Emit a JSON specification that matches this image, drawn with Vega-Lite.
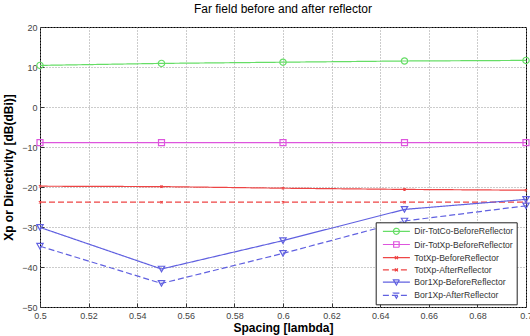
{
  "$schema": "https://vega.github.io/schema/vega-lite/v6.json",
  "width": 486,
  "height": 280,
  "autosize": {"type": "none"},
  "padding": {"left": 40, "top": 27, "right": 4, "bottom": 29},
  "background": "white",
  "title": {"text": "Far field before and after reflector", "fontSize": 12, "fontWeight": "normal", "font": "Liberation Sans", "color": "black", "offset": 7},
  "config": {
    "view": {"stroke": "black", "strokeWidth": 1},
    "axis": {
      "domain": false,
      "ticks": true,
      "tickSize": -4,
      "tickColor": "#333333",
      "grid": true,
      "gridColor": "#999999",
      "gridDash": [1, 2],
      "gridOpacity": 1,
      "labelFlush": false,
      "labelFont": "Liberation Sans",
      "labelFontSize": 9,
      "labelColor": "#444444",
      "titleFont": "Liberation Sans",
      "titleFontSize": 12,
      "titleFontWeight": "bold",
      "titleColor": "black"
    },
    "legend": {"labelFont": "Liberation Sans", "labelFontSize": 8.6, "labelColor": "#333333"}
  },
  "data": {
    "values": [
      {"series": "Dir-TotCo-BeforeReflector", "spacing": 0.5, "value": 10.4},
      {"series": "Dir-TotCo-BeforeReflector", "spacing": 0.55, "value": 10.9},
      {"series": "Dir-TotCo-BeforeReflector", "spacing": 0.6, "value": 11.2},
      {"series": "Dir-TotCo-BeforeReflector", "spacing": 0.65, "value": 11.5},
      {"series": "Dir-TotCo-BeforeReflector", "spacing": 0.7, "value": 11.65},
      {"series": "Dir-TotXp-BeforeReflector", "spacing": 0.5, "value": -8.9},
      {"series": "Dir-TotXp-BeforeReflector", "spacing": 0.55, "value": -8.9},
      {"series": "Dir-TotXp-BeforeReflector", "spacing": 0.6, "value": -8.9},
      {"series": "Dir-TotXp-BeforeReflector", "spacing": 0.65, "value": -8.9},
      {"series": "Dir-TotXp-BeforeReflector", "spacing": 0.7, "value": -8.9},
      {"series": "TotXp-BeforeReflector", "spacing": 0.5, "value": -19.8},
      {"series": "TotXp-BeforeReflector", "spacing": 0.55, "value": -19.9},
      {"series": "TotXp-BeforeReflector", "spacing": 0.6, "value": -20.3},
      {"series": "TotXp-BeforeReflector", "spacing": 0.65, "value": -20.6},
      {"series": "TotXp-BeforeReflector", "spacing": 0.7, "value": -20.8},
      {"series": "TotXp-AfterReflector", "spacing": 0.5, "value": -23.8},
      {"series": "TotXp-AfterReflector", "spacing": 0.55, "value": -23.8},
      {"series": "TotXp-AfterReflector", "spacing": 0.6, "value": -23.8},
      {"series": "TotXp-AfterReflector", "spacing": 0.65, "value": -23.8},
      {"series": "TotXp-AfterReflector", "spacing": 0.7, "value": -23.8},
      {"series": "Bor1Xp-BeforeReflector", "spacing": 0.5, "value": -30.1},
      {"series": "Bor1Xp-BeforeReflector", "spacing": 0.55, "value": -40.5},
      {"series": "Bor1Xp-BeforeReflector", "spacing": 0.6, "value": -33.4},
      {"series": "Bor1Xp-BeforeReflector", "spacing": 0.65, "value": -25.6},
      {"series": "Bor1Xp-BeforeReflector", "spacing": 0.7, "value": -23.1},
      {"series": "Bor1Xp-AfterReflector", "spacing": 0.5, "value": -34.8},
      {"series": "Bor1Xp-AfterReflector", "spacing": 0.55, "value": -44.1},
      {"series": "Bor1Xp-AfterReflector", "spacing": 0.6, "value": -36.6},
      {"series": "Bor1Xp-AfterReflector", "spacing": 0.65, "value": -28.5},
      {"series": "Bor1Xp-AfterReflector", "spacing": 0.7, "value": -24.7}
    ]
  },
  "encoding": {
    "x": {
      "field": "spacing", "type": "quantitative",
      "scale": {"domain": [0.5, 0.7], "nice": false, "zero": false},
      "axis": {"title": "Spacing [lambda]", "values": [0.5, 0.52, 0.54, 0.56, 0.58, 0.6, 0.62, 0.64, 0.66, 0.68, 0.7], "format": "~g", "labelPadding": 8, "titlePadding": 2}
    },
    "y": {
      "field": "value", "type": "quantitative",
      "scale": {"domain": [-50, 20], "nice": false, "zero": false},
      "axis": {"title": "Xp or Directivity [dB(dBi)]", "values": [-50, -40, -30, -20, -10, 0, 10, 20], "labelPadding": 7, "titlePadding": 6}
    },
    "color": {
      "field": "series", "type": "nominal",
      "scale": {
        "domain": ["Dir-TotCo-BeforeReflector", "Dir-TotXp-BeforeReflector", "TotXp-BeforeReflector", "TotXp-AfterReflector", "Bor1Xp-BeforeReflector", "Bor1Xp-AfterReflector"],
        "range": ["#66dd66", "#dd55dd", "#ee4444", "#ee4444", "#6060e0", "#6060e0"]
      },
      "legend": {"title": null, "orient": "none", "legendX": 335.7, "legendY": 195.3, "padding": 3, "symbolSize": 100, "symbolOffset": 11.7, "labelOffset": 11.9, "rowPadding": 1.2, "symbolStrokeWidth": 1.2, "symbolFillColor": "transparent", "symbolOpacity": 1, "fillColor": "white", "strokeColor": "#222222"}
    }
  },
  "layer": [
    {
      "mark": {"type": "line", "strokeWidth": 1.2},
      "encoding": {
        "strokeDash": {
          "field": "series", "type": "nominal",
          "scale": {
            "domain": ["Dir-TotCo-BeforeReflector", "Dir-TotXp-BeforeReflector", "TotXp-BeforeReflector", "TotXp-AfterReflector", "Bor1Xp-BeforeReflector", "Bor1Xp-AfterReflector"],
            "range": [[1, 0], [1, 0], [1, 0], [6, 3], [1, 0], [6, 3]]
          },
          "legend": {"title": null, "orient": "none", "legendX": 335.7, "legendY": 195.3, "padding": 3, "symbolSize": 100, "symbolOffset": 11.7, "labelOffset": 11.9, "rowPadding": 1.2, "symbolStrokeWidth": 1.2, "symbolFillColor": "transparent", "symbolOpacity": 1, "fillColor": "white", "strokeColor": "#222222"}
        }
      }
    },
    {
      "transform": [{"filter": {"field": "series", "equal": "Dir-TotCo-BeforeReflector"}}],
      "mark": {"type": "point", "shape": "circle", "filled": false, "size": 40, "strokeWidth": 1.2, "opacity": 1}
    },
    {
      "transform": [{"filter": {"field": "series", "equal": "Dir-TotXp-BeforeReflector"}}],
      "mark": {"type": "point", "shape": "square", "filled": false, "size": 36, "strokeWidth": 1.2, "opacity": 1}
    },
    {
      "transform": [{"filter": {"field": "series", "oneOf": ["TotXp-BeforeReflector", "TotXp-AfterReflector"]}}],
      "mark": {"type": "point", "shape": "M-1,-1L1,1M-1,1L1,-1", "filled": false, "size": 5, "strokeWidth": 1.2, "opacity": 1}
    },
    {
      "transform": [{"filter": {"field": "series", "oneOf": ["Bor1Xp-BeforeReflector", "Bor1Xp-AfterReflector"]}}],
      "mark": {"type": "point", "shape": "triangle-down", "filled": false, "size": 40, "strokeWidth": 1.2, "opacity": 1}
    },
    {
      "transform": [{"filter": "false"}],
      "mark": {"type": "point", "filled": false, "strokeWidth": 1.2, "opacity": 1},
      "encoding": {
        "strokeDash": {
          "field": "series", "type": "nominal",
          "scale": {
            "domain": ["Dir-TotCo-BeforeReflector", "Dir-TotXp-BeforeReflector", "TotXp-BeforeReflector", "TotXp-AfterReflector", "Bor1Xp-BeforeReflector", "Bor1Xp-AfterReflector"],
            "range": [[1, 0], [1, 0], [1, 0], [6, 3], [1, 0], [6, 3]]
          },
          "legend": {"title": null, "orient": "none", "legendX": 335.7, "legendY": 195.3, "padding": 3, "symbolSize": 100, "symbolOffset": 11.7, "labelOffset": 11.9, "rowPadding": 1.2, "symbolStrokeWidth": 1.2, "symbolFillColor": "transparent", "symbolOpacity": 1, "fillColor": "white", "strokeColor": "#222222"}
        },
        "shape": {
          "field": "series", "type": "nominal",
          "scale": {
            "domain": ["Dir-TotCo-BeforeReflector", "Dir-TotXp-BeforeReflector", "TotXp-BeforeReflector", "TotXp-AfterReflector", "Bor1Xp-BeforeReflector", "Bor1Xp-AfterReflector"],
            "range": [
              "M-2.7,0L2.7,0M0.6,0A0.6,0.6,0,1,1,-0.6,0A0.6,0.6,0,1,1,0.6,0",
              "M-2.7,0L2.7,0M-0.55,-0.55L0.55,-0.55L0.55,0.55L-0.55,0.55Z",
              "M-2.7,0L2.7,0M-0.3,-0.3L0.3,0.3M-0.3,0.3L0.3,-0.3",
              "M-2.7,0L2.7,0M-0.3,-0.3L0.3,0.3M-0.3,0.3L0.3,-0.3",
              "M-2.7,0L2.7,0M-0.6,-0.45L0.6,-0.45L0,0.6Z",
              "M-2.7,0L2.7,0M-0.6,-0.45L0.6,-0.45L0,0.6Z"
            ]
          },
          "legend": {"title": null, "orient": "none", "legendX": 335.7, "legendY": 195.3, "padding": 3, "symbolSize": 100, "symbolOffset": 11.7, "labelOffset": 11.9, "rowPadding": 1.2, "symbolStrokeWidth": 1.2, "symbolFillColor": "transparent", "symbolOpacity": 1, "fillColor": "white", "strokeColor": "#222222"}
        }
      }
    }
  ]
}
